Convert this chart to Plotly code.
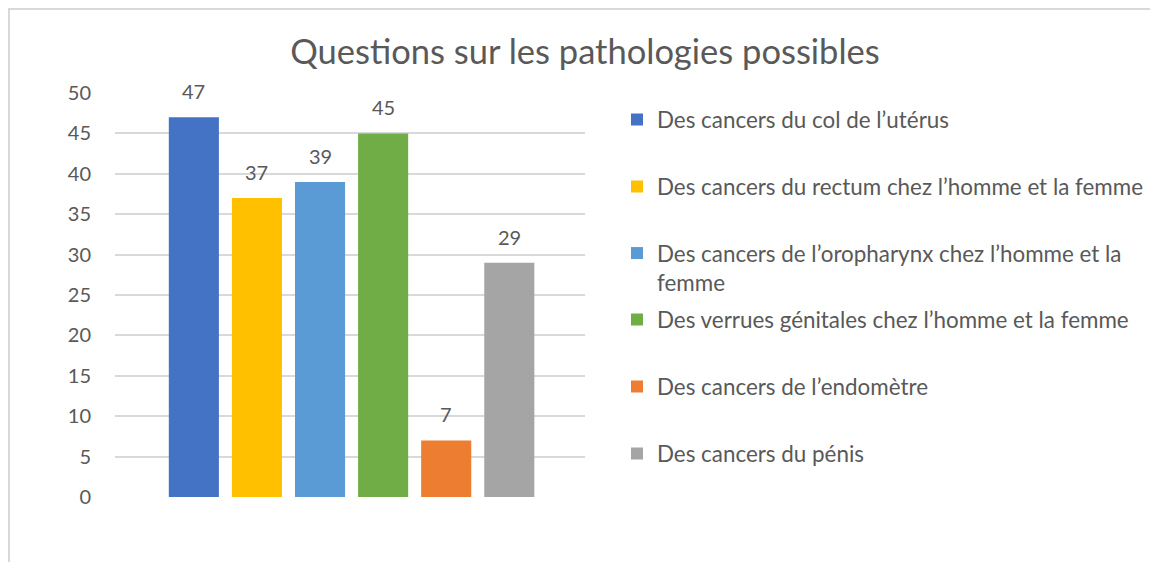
import plotly.graph_objects as go

# Data
title = "Questions sur les pathologies possibles"
categories = [
    "Des cancers du col de l’utérus",
    "Des cancers du rectum chez l’homme et la femme",
    "Des cancers de l’oropharynx chez l’homme et la<br>femme",
    "Des verrues génitales chez l’homme et la femme",
    "Des cancers de l’endomètre",
    "Des cancers du pénis",
]
counts = [47, 37, 39, 45, 7, 29]
colors = ["#4472C4", "#FFC000", "#5B9BD5", "#70AD47", "#ED7D31", "#A5A5A5"]
y_ticks = [0, 5, 10, 15, 20, 25, 30, 35, 40, 45, 50]

FONT = "Lato"
TEXT_COLOR = "#595959"

# the page puts the figure 8px in from the top-left corner
OFF = 8
W, H = 1158 - OFF, 562 - OFF
L, R, T, B = 115 - OFF, 573, 93 - OFF, 65
plot_w = W - L - R
plot_h = H - T - B


def px_(pix):
    # screen pixel column -> paper x
    return (pix - OFF - L) / plot_w


def py(pix):
    # screen pixel row -> paper y
    return (H - B - (pix - OFF)) / plot_h


fig = go.Figure()

legend_rows = [120, 187, 268, 320, 387, 454]
legend_layout = {}
for i, (name, val, col) in enumerate(zip(categories, counts, colors)):
    key = "legend" if i == 0 else f"legend{i + 1}"
    fig.add_trace(go.Bar(
        x=[i],
        y=[val],
        name=name,
        marker=dict(color=col, line=dict(width=0)),
        width=0.794,
        legend=key,
        showlegend=True,
        hoverinfo="y+name",
    ))
    legend_layout[key] = dict(
        x=px_(617),
        xanchor="left",
        y=py(legend_rows[i]),
        yanchor="middle",
        valign="top",
        bgcolor="rgba(0,0,0,0)",
        font=dict(family=FONT, size=22.4, color=TEXT_COLOR),
        itemclick=False,
        visible=True,
    )
    # value labels above the bars
    fig.add_annotation(
        x=i, y=val, text=str(val), showarrow=False,
        yanchor="middle", yshift=26,
        font=dict(family=FONT, size=20, color=TEXT_COLOR),
    )

# light grey chart border
fig.add_shape(
    type="rect", xref="paper", yref="paper",
    x0=px_(9), x1=px_(1190),
    y0=py(600), y1=py(9),
    line=dict(color="#D9D9D9", width=2),
    layer="below",
)

fig.update_layout(
    width=W,
    height=H,
    margin=dict(l=L, r=R, t=T, b=B, autoexpand=False),
    paper_bgcolor="white",
    plot_bgcolor="white",
    showlegend=True,
    title=dict(
        text=title,
        x=(585 - OFF) / W,
        xanchor="center",
        y=1 - (52 - OFF) / H,
        yanchor="middle",
        font=dict(family=FONT, size=34.5, color=TEXT_COLOR),
    ),
    xaxis=dict(
        range=[-1.25, 6.2],
        showticklabels=False,
        showgrid=False,
        zeroline=False,
        showline=False,
        fixedrange=True,
    ),
    yaxis=dict(
        range=[0, 50],
        tickvals=y_ticks,
        showgrid=True,
        gridcolor="#D9D9D9",
        gridwidth=1.5,
        zeroline=False,
        showline=False,
        ticks="",
        ticklabelstandoff=23,
        tickfont=dict(family=FONT, size=20, color=TEXT_COLOR),
        fixedrange=True,
    ),
    **legend_layout,
)

fig.write_html("out.html")
